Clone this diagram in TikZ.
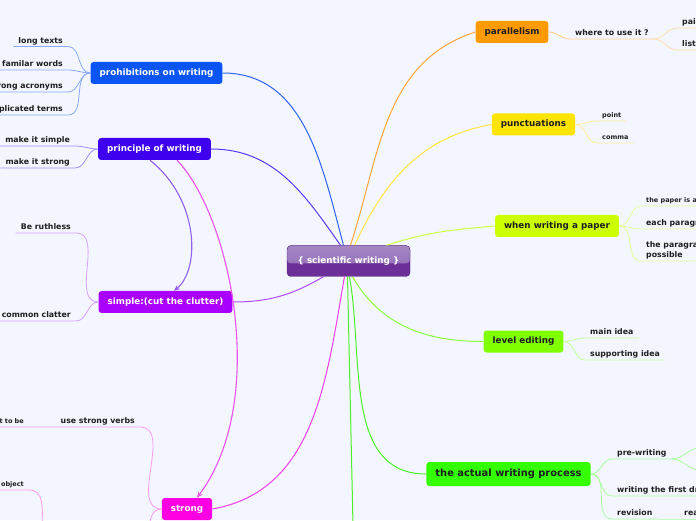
\documentclass[tikz,border=0pt]{standalone}
\usepackage{fontspec}
\setmainfont{DejaVu Sans}
\usetikzlibrary{arrows.meta,calc}
\definecolor{bg}{HTML}{F3F6FE}
\definecolor{ink}{HTML}{1E1E1E}
\definecolor{coredark}{HTML}{6B2F97}
\definecolor{coretop}{HTML}{A587C5}
\definecolor{coremid}{HTML}{8C67B2}
\definecolor{coreline}{HTML}{58267E}
\definecolor{cProhib}{HTML}{0B55F6}
\definecolor{cPrinc}{HTML}{3F00F0}
\definecolor{cSimple}{HTML}{AA00FF}
\definecolor{cStrong}{HTML}{FF00E2}
\definecolor{cParall}{HTML}{FF9A00}
\definecolor{cPunct}{HTML}{FFE400}
\definecolor{cPaper}{HTML}{CCFF00}
\definecolor{cLevel}{HTML}{80FF00}
\definecolor{cProcess}{HTML}{33FF00}
\definecolor{lProhib}{HTML}{2E63F2}
\definecolor{lPrinc}{HTML}{5A3AF0}
\definecolor{lSimple}{HTML}{B14BFF}
\definecolor{lStrong}{HTML}{F03CEB}
\definecolor{lParall}{HTML}{FFA63A}
\definecolor{lPunct}{HTML}{FFE540}
\definecolor{lPaper}{HTML}{CFFF3A}
\definecolor{lLevel}{HTML}{8CFF3A}
\definecolor{lProcess}{HTML}{4CF02A}
\definecolor{tProhib}{HTML}{8AAAF8}
\definecolor{tPrinc}{HTML}{9F8FF6}
\definecolor{tSimple}{HTML}{D7A0FF}
\definecolor{tStrong}{HTML}{FF9AF3}
\definecolor{tParall}{HTML}{FFCC8A}
\definecolor{tParallsub}{HTML}{FFDDB0}
\definecolor{tPunct}{HTML}{FFF09A}
\definecolor{tPaper}{HTML}{E4FF99}
\definecolor{tLevel}{HTML}{C4FFA0}
\definecolor{tProcess}{HTML}{A8FFA0}
\definecolor{aSimple}{HTML}{8F5FEE}
\definecolor{aStrong}{HTML}{EE50EE}
\tikzset{
  core/.style={rounded corners=4pt, minimum width=123pt, minimum height=31pt, inner sep=0pt,
    draw=coreline, fill=coredark, text=white, font=\bfseries\fontsize{8.8}{10}\selectfont,
    path picture={\shade[top color=coretop,bottom color=coremid]
      (path picture bounding box.north west) rectangle ([yshift=-2.5pt]path picture bounding box.east);}},
  topic/.style={rounded corners=3pt, minimum height=22pt, inner xsep=9pt, inner ysep=0pt,
    text=ink, font=\bfseries\fontsize{8.8}{10}\selectfont},
  leaf/.style={inner xsep=5pt, inner ysep=1pt, text depth=2pt, text=ink,
    font=\bfseries\fontsize{7.8}{10}\selectfont},
  smallleaf/.style={leaf, font=\bfseries\fontsize{6.5}{8}\selectfont},
  branch/.style={line width=1pt},
  twig/.style={line width=0.8pt}
}
\begin{document}
\begin{tikzpicture}[x=1pt,y=1pt,>={Stealth[length=6pt,width=5pt]}]
\useasboundingbox (0,0) rectangle (696,520);
\fill[bg] (0,0) rectangle (696,520);
\node[core] (sci) at (348.5,259) {\{ scientific writing \}};
\node[topic,fill=cProhib,text=white] (prohib) at (156.5,447) {prohibitions on writing};
\node[topic,fill=cPrinc,text=white] (princ) at (154.5,371) {principle of writing};
\node[topic,fill=cSimple,text=white] (simple) at (165.5,218) {simple:(cut the clutter)};
\node[topic,fill=cStrong,text=white] (strong) at (187,11) {strong};
\node[topic,fill=cParall] (parall) at (512,488) {parallelism};
\node[topic,fill=cPunct] (punct) at (533.5,395.5) {punctuations};
\node[topic,fill=cPaper] (paper) at (557,294) {when writing a paper};
\node[topic,fill=cLevel] (level) at (523.5,178.5) {level editing};
\node[topic,fill=cProcess,minimum height=24pt,font=\bfseries\fontsize{9.9}{11}\selectfont] (process) at (508.5,46) {the actual writing process};
\coordinate (down) at (353,-5);

\draw[branch,lProhib] (prohib.east) to[out=0,in=105] ($(sci.north)+(-5,0)$);
\draw[branch,lPrinc] (princ.east) to[out=0,in=125] ($(sci.north)+(-8,0)$);
\draw[branch,lParall] ($(sci.north)+(2,0)$) to[out=72,in=198] (parall.west);
\draw[branch,lPunct] ($(sci.north)+(6,0)$) to[out=65,in=190] (punct.west);
\draw[branch,lPaper] ($(sci.north)+(38,0)$) to[out=18,in=185] (paper.west);
\draw[branch,lLevel] ($(sci.south)+(4,0)$) to[out=-60,in=180] (level.west);
\draw[branch,lProcess] ($(sci.south)+(1,0)$) to[out=-80,in=180] (process.west);
\draw[branch,lProcess] ($(sci.south)+(-1,0)$) -- (down);
\draw[branch,lStrong] ($(sci.south)+(-4,0)$) to[out=-100,in=10] (strong.east);
\draw[branch,lSimple] ($(sci.south)+(-25,0)$) to[out=-150,in=0] (simple.east);

\draw[line width=1.1pt,aSimple,->] ($(princ.south)+(-4.5,0)$) .. controls +(50,-40) and +(26,21) .. ($(simple.north)+(8.5,0)$);
\draw[line width=1.1pt,aStrong,->] ($(princ.south)+(22.5,0)$) .. controls +(53,-55) and +(73,98) .. ($(strong.north)+(10,0)$);

\foreach \t/\y [count=\i] in {long texts/473.5, familar words/450, wrong acronyms/428, complicated terms/405}{
  \node[leaf,anchor=south east] (pro\i) at (68,\y) {\t};
  \draw[twig,tProhib] (pro\i.south west) -- (pro\i.south east) to[out=0,in=180] (prohib.west);
}
\foreach \t/\y [count=\i] in {make it simple/374, make it strong/352}{
  \node[leaf,anchor=south east] (pri\i) at (75,\y) {\t};
  \draw[twig,tPrinc] (pri\i.south west) -- (pri\i.south east) to[out=0,in=180] (princ.west);
}
\foreach \t/\y [count=\i] in {Be ruthless/287, common clatter/199}{
  \node[leaf,anchor=south east] (sim\i) at (76,\y) {\t};
  \draw[twig,tSimple] (sim\i.south west) -- (sim\i.south east) to[out=0,in=180] (simple.west);
}

\node[leaf,anchor=south east] (verbs) at (140,93) {use strong verbs};
\node[smallleaf,anchor=south east] (tobe) at (29,93) {not to be};
\node[smallleaf,anchor=south east] (object) at (29,30) {object};
\coordinate (strongdown) at (135,-35);
\coordinate (objectdown) at (55,-40);
\draw[twig,tStrong] (strong.west) to[out=180,in=0] (verbs.south east) -- (verbs.south west)
  to[out=180,in=0] (tobe.south east) -- (tobe.south west);
\draw[twig,tStrong] (strong.west) to[out=180,in=0] (strongdown);
\draw[twig,tStrong] (object.south west) -- (object.south east) to[out=0,in=180] (objectdown);

\node[leaf,anchor=south west] (where) at (570,481) {where to use it ?};
\node[leaf,anchor=south west] (pairs) at (677,492) {pairs};
\node[leaf,anchor=south west] (lists) at (677,470) {lists};
\draw[twig,tParall] (parall.east) to[out=0,in=180] (where.south west) -- (where.south east);
\foreach \n in {pairs,lists}
  \draw[twig,tParallsub] (where.south east) to[out=0,in=180] (\n.south west) -- (\n.south east);

\node[smallleaf,anchor=south west] (point) at (597,399) {point};
\node[smallleaf,anchor=south west] (comma) at (597,377) {comma};
\foreach \n in {point,comma}
  \draw[twig,tPunct] (punct.east) to[out=0,in=180] (\n.south west) -- (\n.south east);

\node[smallleaf,anchor=south west] (pap1) at (641,314) {the paper is about one idea};
\node[leaf,anchor=south west] (pap2) at (641,291) {each paragraph is one idea};
\node[leaf,anchor=south west,align=left] (pap3) at (641,259) {the paragraph as short as\\possible};
\foreach \n in {pap1,pap2,pap3}
  \draw[twig,tPaper] (paper.east) to[out=0,in=180] (\n.south west) -- (\n.south east);

\node[leaf,anchor=south west] (main) at (585,182) {main idea};
\node[leaf,anchor=south west] (supp) at (585,160) {supporting idea};
\foreach \n in {main,supp}
  \draw[twig,tLevel] (level.east) to[out=0,in=180] (\n.south west) -- (\n.south east);

\node[leaf,anchor=south west] (prew) at (612,61) {pre-writing};
\node[leaf,anchor=south west] (draft) at (612,24) {writing the first draft};
\node[leaf,anchor=south west] (revis) at (612,1) {revision};
\node[leaf,anchor=south west] (read) at (679,1) {read it again};
\coordinate (prew1) at (700,72);
\coordinate (prew2) at (700,50);
\foreach \n in {prew,draft,revis}
  \draw[twig,tProcess] (process.east) to[out=0,in=180] (\n.south west) -- (\n.south east);
\foreach \n in {prew1,prew2}
  \draw[twig,tProcess] (prew.south east) to[out=0,in=180] (\n) -- ++(20,0);
\draw[twig,tProcess] (revis.south east) -- (read.south west) -- (read.south east);
\end{tikzpicture}
\end{document}
